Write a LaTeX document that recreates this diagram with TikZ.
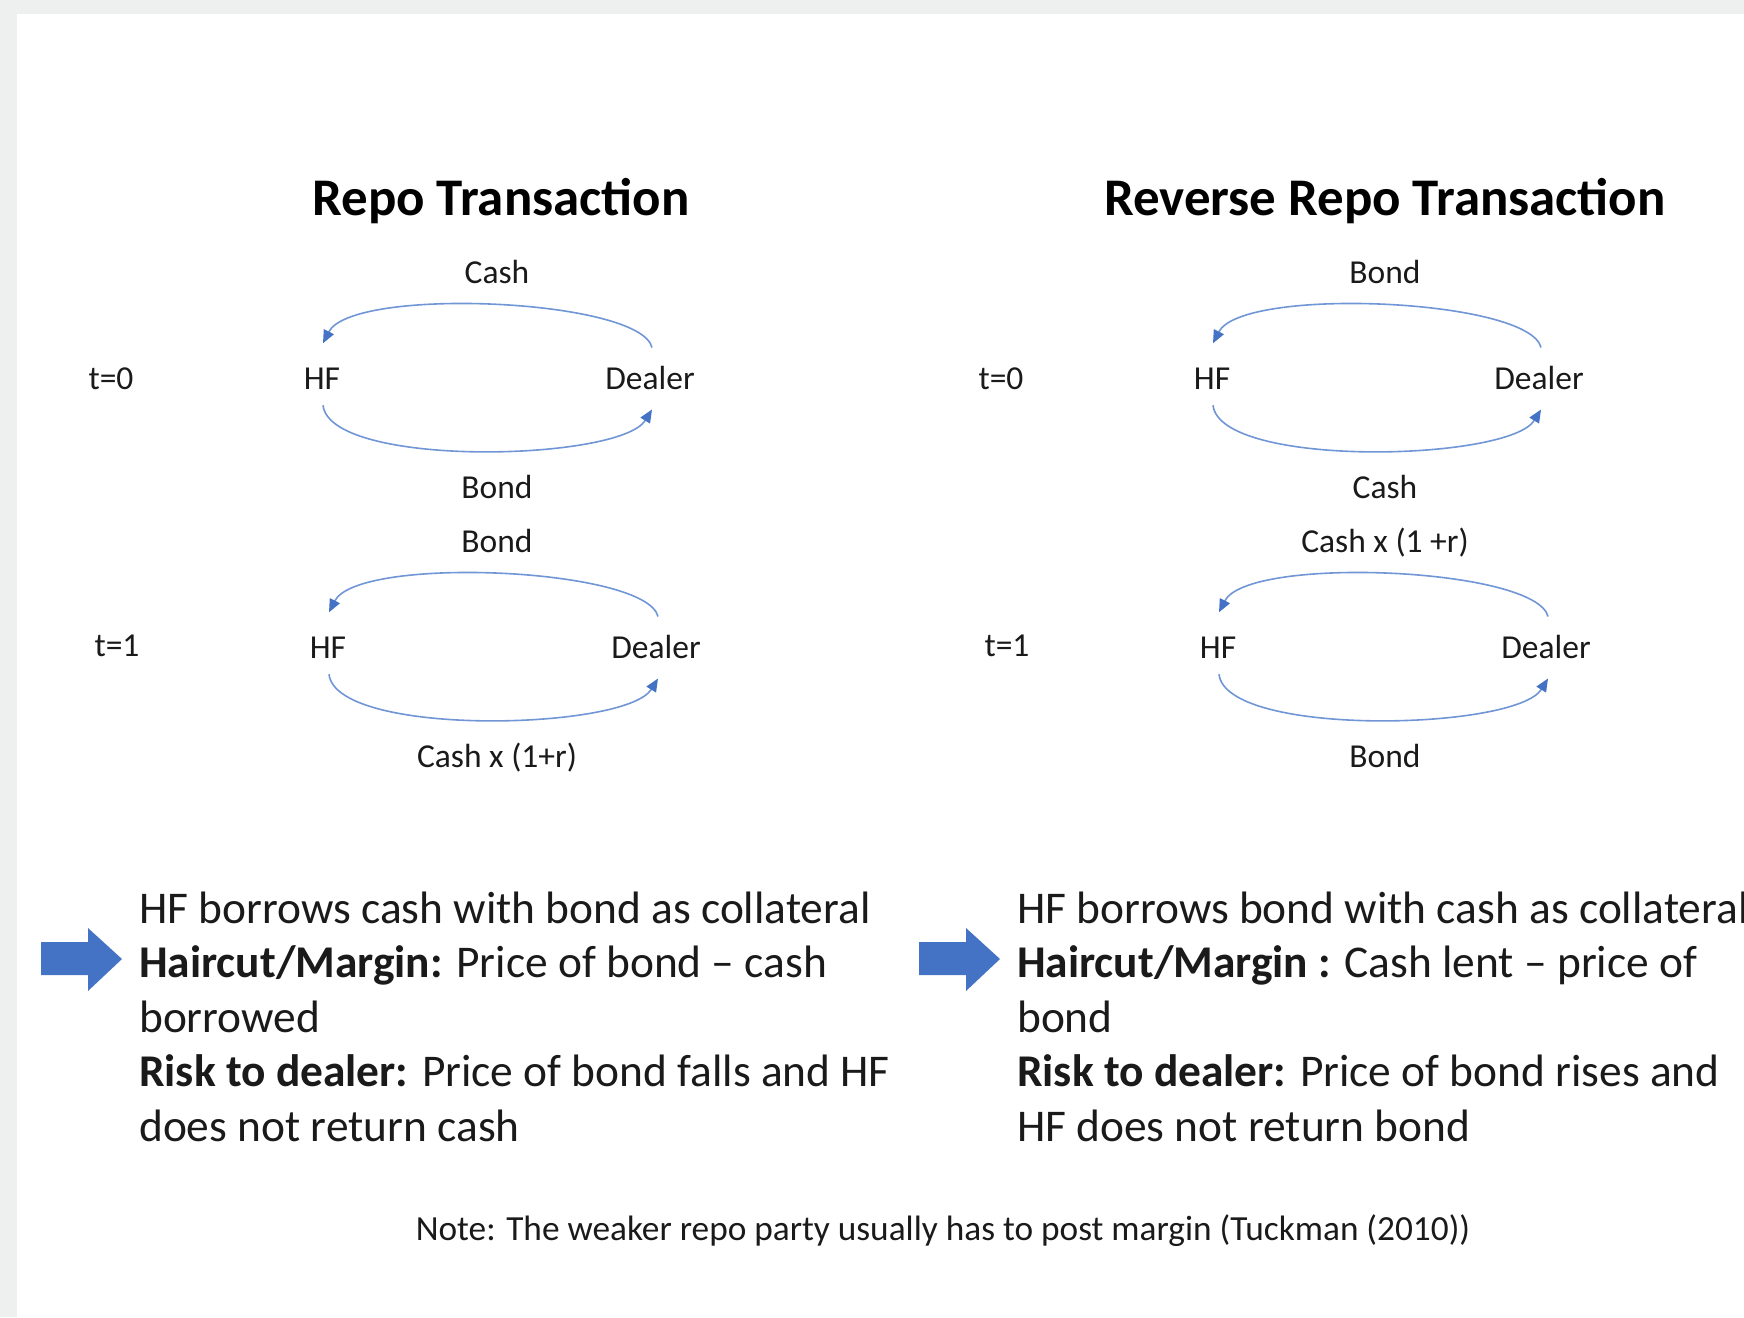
\documentclass[tikz,border=0pt]{standalone}
\usepackage{fontspec}
\setmainfont{Carlito}
\usetikzlibrary{arrows.meta,calc}
\definecolor{bgray}{HTML}{EEEFEF}
\definecolor{arcblue}{HTML}{7196D6}
\definecolor{tipblue}{HTML}{4472C4}
\definecolor{ink}{HTML}{1A1A1A}
\begin{document}
\begin{tikzpicture}[x=1pt,y=-1pt,
  lbl/.style={font=\fontsize{33.5}{40}\selectfont, text=ink, inner sep=0pt, anchor=base},
  ttl/.style={font=\fontsize{52.9}{60}\selectfont\bfseries, text=black, inner sep=0pt, anchor=base},
  body/.style={font=\fontsize{45.4}{54.5}\selectfont, text=ink, inner sep=0pt, anchor=base west},
  notetxt/.style={font=\fontsize{35.3}{40}\selectfont, text=ink, inner sep=0pt, anchor=base},
  flow/.style={draw=arcblue, line width=1.6pt, -{Triangle[length=13pt,width=11pt,color=tipblue]}},
  bigarrow/.style={fill=tipblue, draw=none}]
\useasboundingbox (0,0) rectangle (1744,1317);
\clip (0,0) rectangle (1744,1317);
\fill[bgray] (0,0) rectangle (1744,1317);
\fill[white] (17,14) rectangle (1744,1317);

% titles
\node[ttl] (title1) at (501,215) {Repo Transaction};
\node[ttl] (title2) at (1385,215) {Reverse Repo Transaction};

% cycles
\foreach \i/\hx/\dx/\yy/\lx/\tx/\ty/\tlab/\toptext/\bottext in {
  1/322/650/389/497/111/389/{t=0}/{Cash}/{Bond},
  2/328/656/658/497/117/656/{t=1}/{Bond}/{Cash x (1+r)},
  3/1212/1539/389/1385/1001/389/{t=0}/{Bond}/{Cash},
  4/1218/1546/658/1385/1007/656/{t=1}/{Cash x (1 +r)}/{Bond}}{
  \node[lbl] (HF\i) at (\hx,\yy) {HF};
  \node[lbl] (D\i) at (\dx,\yy) {Dealer};
  \node[lbl] (T\i) at (\tx,\ty) {\tlab};
  \node[lbl] (top\i) at (\lx,\yy-106) {\toptext};
  \node[lbl] (bot\i) at (\lx,\yy+109) {\bottext};
  \draw[flow] ($(D\i.center)+(2,-30)$) .. controls ($(D\i.center)+(-10,-79)$) and ($(HF\i.center)+(30,-92)$) .. ($(HF\i.center)+(1,-35)$);
  \draw[flow] ($(HF\i.center)+(1,27)$) .. controls ($(HF\i.center)+(8,90)$) and ($(D\i.center)+(-30,84)$) .. ($(D\i.center)+(2,32)$);
}

% big arrows
\fill[bigarrow] (41,942) -- (88,942) -- (88,928) -- (122,959) -- (88,991) -- (88,975) -- (41,975) -- cycle;
\fill[bigarrow] (919,942) -- (966,942) -- (966,928) -- (1000,959) -- (966,991) -- (966,975) -- (919,975) -- cycle;

% left text
\node[body] (L1) at (139,923) {HF borrows cash with bond as collateral};
\node[body] (L2) at (139,977.5) {\textbf{Haircut/Margin:} Price of bond – cash};
\node[body] (L3) at (139,1032) {borrowed};
\node[body] (L4) at (139,1086.5) {\textbf{Risk to dealer:} Price of bond falls and HF};
\node[body] (L5) at (139,1141) {does not return cash};

% right text
\node[body] (R1) at (1017,923) {HF borrows bond with cash as collateral};
\node[body] (R2) at (1017,977.5) {\textbf{Haircut/Margin :} Cash lent – price of};
\node[body] (R3) at (1017,1032) {bond};
\node[body] (R4) at (1017,1086.5) {\textbf{Risk to dealer:} Price of bond rises and};
\node[body] (R5) at (1017,1141) {HF does not return bond};

% note
\node[notetxt] (note) at (943,1240) {Note: The weaker repo party usually has to post margin (Tuckman (2010))};
\end{tikzpicture}
\end{document}
